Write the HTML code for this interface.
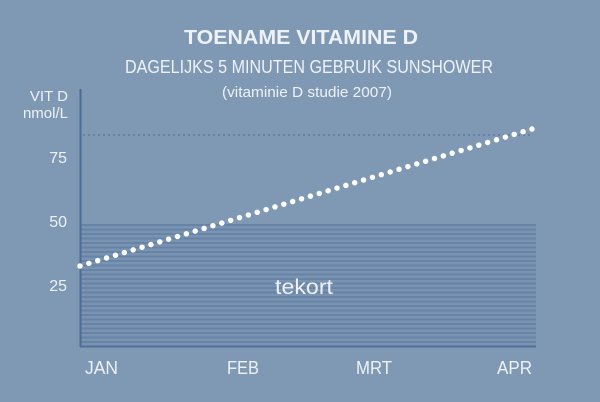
<!DOCTYPE html>
<html>
<head>
<meta charset="utf-8">
<style>
  html, body { margin:0; padding:0; }
  body { width:600px; height:402px; overflow:hidden; background:#7f99b5; }
  svg { display:block; }
  text { font-family:"Liberation Sans", sans-serif; fill:#eef2f7; }
</style>
</head>
<body>
<svg width="600" height="402" viewBox="0 0 600 402" xmlns="http://www.w3.org/2000/svg">
  <defs>
    <pattern id="stripes" x="0" y="224" width="10" height="4.5" patternUnits="userSpaceOnUse">
      <rect x="0" y="0" width="10" height="4.5" fill="#7993b1"/>
      <rect x="0" y="0" width="10" height="2" fill="#6784a7"/>
    </pattern>
  </defs>
  <rect x="0" y="0" width="600" height="402" fill="#7f99b5"/>

  <!-- Titles -->
  <text x="184" y="44" font-size="20" font-weight="bold" textLength="234" lengthAdjust="spacingAndGlyphs" fill="#f4f6f9">TOENAME VITAMINE D</text>
  <text x="125" y="73" font-size="18" textLength="368" lengthAdjust="spacingAndGlyphs" fill="#e8edf3">DAGELIJKS 5 MINUTEN GEBRUIK SUNSHOWER</text>
  <text x="222" y="97" font-size="15" textLength="170" lengthAdjust="spacingAndGlyphs" fill="#e8edf3">(vitaminie D studie 2007)</text>

  <!-- deficiency band -->
  <rect x="81" y="224" width="455" height="122" fill="url(#stripes)"/>

  <!-- reference dotted line -->
  <line x1="83" y1="135" x2="532" y2="135" stroke="#5d7a9c" stroke-width="1.5" stroke-dasharray="2 3"/>

  <!-- axes -->
  <line x1="80.5" y1="89" x2="80.5" y2="347" stroke="#4b6c93" stroke-width="2"/>
  <line x1="80" y1="346.5" x2="536" y2="346.5" stroke="#4f7098" stroke-width="2"/>

  <!-- y labels -->
  <text x="68" y="101" font-size="15" text-anchor="end">VIT D</text>
  <text x="68" y="118" font-size="15" text-anchor="end">nmol/L</text>
  <text x="67" y="163" font-size="16" text-anchor="end">75</text>
  <text x="67" y="227" font-size="16" text-anchor="end">50</text>
  <text x="67" y="291" font-size="16" text-anchor="end">25</text>

  <!-- x labels -->
  <text x="85" y="374" font-size="18" textLength="33" lengthAdjust="spacingAndGlyphs">JAN</text>
  <text x="227" y="374" font-size="18" textLength="32" lengthAdjust="spacingAndGlyphs">FEB</text>
  <text x="356" y="374" font-size="18" textLength="36" lengthAdjust="spacingAndGlyphs">MRT</text>
  <text x="497" y="374" font-size="18" textLength="35" lengthAdjust="spacingAndGlyphs">APR</text>

  <!-- tekort -->
  <text x="275" y="294" font-size="21" textLength="58" lengthAdjust="spacingAndGlyphs" fill="#e8eef5">tekort</text>

  <!-- data line -->
  <line x1="80" y1="266" x2="532" y2="129" stroke="#ffffff" stroke-width="5.5" stroke-linecap="round" stroke-dasharray="0 9.26"/>
</svg>
</body>
</html>
